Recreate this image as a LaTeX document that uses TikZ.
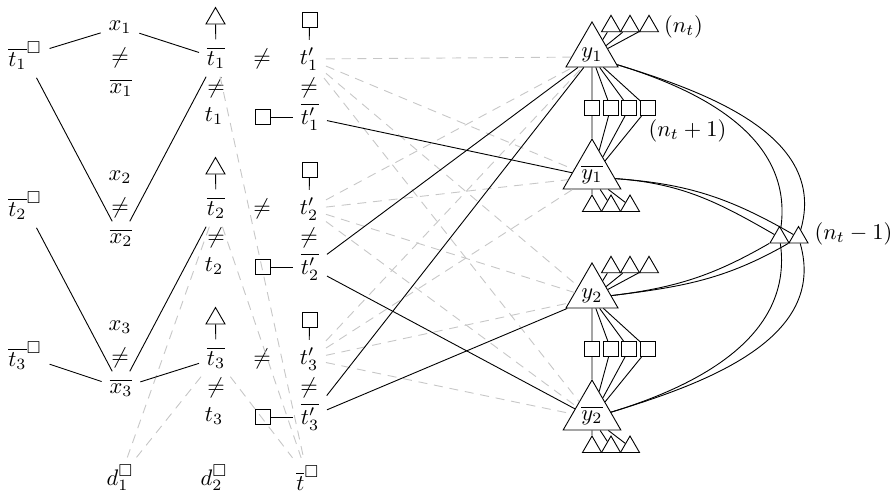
\documentclass[tikz,border=0pt]{standalone}
\usepackage{amsmath,amssymb}
\usetikzlibrary{shapes.geometric}
\begin{document}
\begin{tikzpicture}[x=0.4444pt,y=-0.4444pt,
  lab/.style={inner sep=3.3pt},
  sqbox/.style={draw, rectangle, minimum size=6.67pt, inner sep=0pt},
  stri/.style={draw, regular polygon, regular polygon sides=3, minimum size=9.75pt, inner sep=0pt},
  ytri/.style={draw, isosceles triangle, isosceles triangle apex angle=60, shape border rotate=90,
    inner sep=0pt, text width=12.85pt, text height=4.75pt, text depth=4.15pt, align=center},
  ybtri/.style={draw, isosceles triangle, isosceles triangle apex angle=60, shape border rotate=90,
    inner sep=0pt, text width=13.3pt, text height=6.45pt, text depth=4.25pt, align=center},
  dsh/.style={draw=black!22, dash pattern=on 4pt off 3pt},
  sol/.style={draw=black}]
\useasboundingbox (0,0) rectangle (896,495);
% left rows
\foreach \i in {1,2,3}{
  \pgfmathsetmacro\yo{57+150*(\i-1)}
  \node[lab] (L\i) at (25,\yo-1) {$\overline{t_\i}^{\square}$};
  \node[lab] (X\i) at (120,\yo-30) {$x_\i$};
  \node[lab] (XN\i) at (120,\yo+1) {$\neq$};
  \node[lab] (XB\i) at (121,\yo+31) {$\overline{x_\i}$};
  \node[stri] (TR\i) at (215.5,\yo-38.5) {};
  \node[lab] (TB\i) at (216,\yo+1) {$\overline{t_\i}$};
  \node[lab] (TBN\i) at (216,\yo+31) {$\neq$};
  \node[lab] (T\i) at (214,\yo+59) {$t_\i$};
  \node[lab] (MN\i) at (262,\yo+2) {$\neq$};
  \node[sqbox] (SQ\i) at (309.5,\yo-37) {};
  \node[lab] (TP\i) at (309,\yo+2) {$t'_\i$};
  \node[lab] (TPN\i) at (309,\yo+31) {$\neq$};
  \node[lab] (TPB\i) at (310,\yo+60) {$\overline{t'_\i}$};
  \node[sqbox] (SQL\i) at (262.5,\yo+60) {};
  \draw[sol] (TR\i) -- (TB\i);
  \draw[sol] (SQ\i) -- (TP\i);
  \draw[sol] (SQL\i) -- (TPB\i);
}
\node[lab] (D1) at (120,478) {$d_1^{\square}$};
\node[lab] (D2) at (214,478) {$d_2^{\square}$};
\node[lab] (TT) at (308,478) {$\overline{t}^{\square}$};
% right groups
\foreach \k/\d in {1/0,2/241}{
  \node[ytri] (Y\k) at (592,57+\d) {$y_\k$};
  \node[ybtri] (YB\k) at (592,177+\d) {$\overline{y_\k}$};
  \foreach \j/\x in {1/611,2/630,3/649}{
    \node[stri] (YS\k\j) at (\x,26.3+\d) {};
    \draw[sol] (Y\k) -- (YS\k\j);
  }
  \foreach \j/\x in {1/592,2/610.7,3/629.3,4/648}{
    \node[sqbox] (Q\k\j) at (\x,108+\d) {};
    \draw[sol] (Y\k) -- (Q\k\j);
    \draw[sol] (Q\k\j) -- (YB\k);
  }
  \foreach \j/\x in {1/592,2/611,3/630}{
    \node[stri] (YBS\k\j) at (\x,206+\d) {};
    \draw[sol] (YB\k) -- (YBS\k\j);
  }
}
\node (NT) at (683.5,27) {$(n_t)$};
\node (NTp) at (687.5,131) {$(n_t+1)$};
\node[stri] (Ta) at (779.5,237.5) {};
\node[stri] (Tb) at (798.5,237.5) {};
\node (NTm) at (853.5,234) {$(n_t-1)$};
% dashed connectors
\draw[dsh] (TB1) -- (TT);
\draw[dsh] (TB2) -- (TT);
\draw[dsh] (TB3) -- (TT);
\draw[dsh] (TB2) -- (D1);
\draw[dsh] (TB3) -- (D1);
\foreach \i in {1,2,3}{
  \foreach \t in {Y1,YB1,Y2,YB2}{
    \draw[dsh] (TP\i) -- (\t);
  }
}
% solid connectors left
\draw[sol] (L1) -- (X1);
\draw[sol] (X1) -- (TB1);
\draw[sol] (L1) -- (XB2);
\draw[sol] (TB1) -- (XB2);
\draw[sol] (L2) -- (XB3);
\draw[sol] (TB2) -- (XB3);
\draw[sol] (L3) -- (XB3);
\draw[sol] (XB3) -- (TB3);
% solid connectors middle
\draw[sol] (TPB1) -- (YB1);
\draw[sol] (TPB2) -- (Y1);
\draw[sol] (TPB2) -- (YB2);
\draw[sol] (TPB3) -- (Y1);
\draw[sol] (TPB3) -- (Y2);
% arcs
\draw[sol] (Y1) to[out=-17,in=82] (Ta);
\draw[sol] (Y1) to[out=-17,in=74] (Tb);
\draw[sol] (YB2) to[out=17,in=-82] (Ta);
\draw[sol] (YB2) to[out=17,in=-74] (Tb);
\draw[sol] (YB1) to[out=-4,in=150] (Ta);
\draw[sol] (YB1) to[out=-4,in=150] (Tb);
\draw[sol] (Y2) to[out=7,in=-150] (Ta);
\draw[sol] (Y2) to[out=7,in=-150] (Tb);
\end{tikzpicture}
\end{document}
